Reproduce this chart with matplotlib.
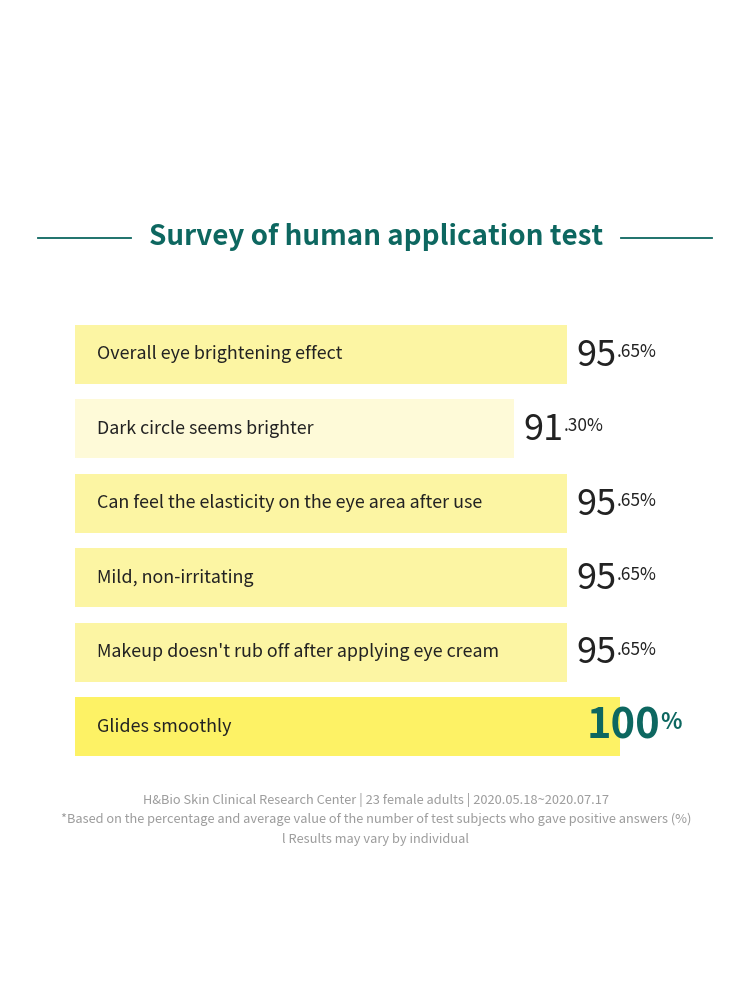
import matplotlib
matplotlib.use("Agg")
import matplotlib.pyplot as plt
from matplotlib.lines import Line2D

categories = [
    "Overall eye brightening effect",
    "Dark circle seems brighter",
    "Can feel the elasticity on the eye area after use",
    "Mild, non-irritating",
    "Makeup doesn't rub off after applying eye cream",
    "Glides smoothly",
]
values = [95.65, 91.30, 95.65, 95.65, 95.65, 100.0]
bar_colors = ["#FCF5A3", "#FEFAD8", "#FCF5A3", "#FCF5A3", "#FCF5A3", "#FDF265"]

title = "Survey of human application test"
footnotes = [
    "H&Bio Skin Clinical Research Center | 23 female adults | 2020.05.18~2020.07.17",
    "*Based on the percentage and average value of the number of test subjects who gave positive answers (%)",
    "l Results may vary by individual",
]

TEAL = "#0D6760"
DARK = "#222222"
GREY = "#9C9C9C"
FONT = ["Noto Sans CJK KR", "DejaVu Sans"]

fig = plt.figure(figsize=(7.5, 10), dpi=100)
fig.patch.set_facecolor("white")

W, H = 750.0, 1000.0
def fx(px):
    return px / W
def fy(py):
    return 1 - py / H

# title and decorative lines
fig.text(fx(376), fy(237), title, ha="center", va="center", color=TEAL,
         fontsize=20, fontweight="bold", family=FONT)
fig.add_artist(Line2D([fx(38), fx(131)], [fy(238), fy(238)], color=TEAL, lw=1.3))
fig.add_artist(Line2D([fx(621), fx(712)], [fy(238), fy(238)], color=TEAL, lw=1.3))

# bar axes
ax = fig.add_axes([fx(75), fy(756), (620 - 75) / W, (756 - 325) / H])
ax.set_facecolor("none")
n = len(categories)
ypos = list(range(n))
bh = 0.793
ax.barh(ypos, values, height=bh, color=bar_colors, left=0)
ax.set_xlim(55.3, 100)
ax.set_ylim(n - 1 + bh / 2, -bh / 2)
ax.axis("off")

for i, (cat, v) in enumerate(zip(categories, values)):
    ax.text(55.3 + 1.8, i, cat, ha="left", va="center", color=DARK,
            fontsize=12.9, family=FONT, clip_on=False)
    if v >= 100:
        main = ax.annotate(f"{v:.0f}", xy=(v, i), xytext=(-24, 0), textcoords="offset points",
                           ha="left", va="center", color=TEAL, fontsize=30,
                           fontweight="black", family=FONT, annotation_clip=False)
        ax.annotate("%", xy=(1, 0.86), xycoords=main, xytext=(0, 0), textcoords="offset points",
                    ha="left", va="top", color=TEAL, fontsize=16, fontweight="bold", family=FONT)
    else:
        s = f"{v:.2f}"
        ip, dp = s.split(".")
        main = ax.annotate(ip, xy=(v, i), xytext=(7, -1), textcoords="offset points",
                           ha="left", va="center", color=DARK, fontsize=26,
                           fontweight="light", family=FONT, annotation_clip=False)
        ax.annotate("." + dp + "%", xy=(1, 0.86), xycoords=main, xytext=(0, 0),
                    textcoords="offset points", ha="left", va="top", color=DARK,
                    fontsize=12.5, fontweight="light", family=FONT)

for k, line in enumerate(footnotes):
    fig.text(fx(376), fy(800 + 19.5 * k), line, ha="center", va="center", color=GREY,
             fontsize=9.25, family=FONT)

fig.savefig("out.png", dpi=100, facecolor="white")
